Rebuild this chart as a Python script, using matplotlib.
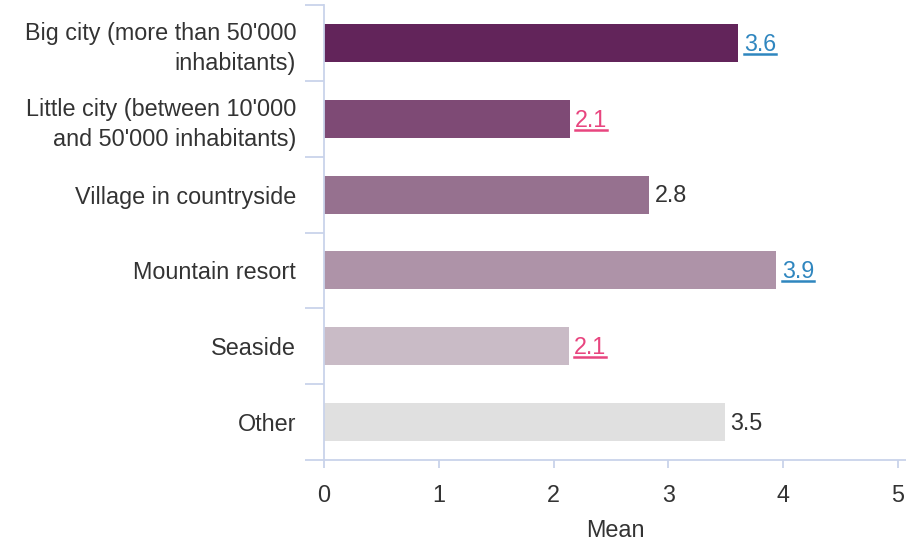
import numpy as np
import matplotlib.pyplot as plt
from matplotlib.lines import Line2D

plt.rcParams['font.family'] = ['Liberation Sans', 'DejaVu Sans']

categories = ["Big city (more than 50'000\ninhabitants)",
              "Little city (between 10'000\nand 50'000 inhabitants)",
              "Village in countryside",
              "Mountain resort",
              "Seaside",
              "Other"]
means = [3.61, 2.14, 2.83, 3.94, 2.13, 3.49]
bar_colors = ["#62245a", "#7e4a75", "#96718f", "#ae93a8", "#c9bbc6", "#e0e0e0"]
label_colors = ["#2f86bf", "#e8457f", "#333333", "#2f86bf", "#e8457f", "#333333"]
underlined = [True, True, False, True, True, False]
xticks = [0, 1, 2, 3, 4, 5]

axis_col = "#c9d3ea"
text_col = "#333333"
fs = 16.8

fig = plt.figure(figsize=(9.06, 5.41), dpi=100)
ax = fig.add_axes([324 / 906, 81 / 541, (906 - 324) / 906, (536 - 81) / 541])

y = np.arange(len(categories))
ax.barh(y, means, height=0.5, color=bar_colors)
ax.set_ylim(len(categories) - 0.5, -0.5)
ax.set_xlim(0, 5 * 582 / 574)

# band boundaries carry the tick marks, band centres carry the labels
ax.set_yticks(np.arange(-0.5, len(categories), 1.0))
ax.set_yticklabels([])
ax.set_yticks(y, minor=True)
ax.set_yticklabels(categories, minor=True, ha='right', fontsize=fs, color=text_col,
                   linespacing=1.35)
ax.tick_params(axis='y', which='major', length=14, width=1.3, color=axis_col)
ax.tick_params(axis='y', which='minor', length=0, pad=20)

ax.set_xticks(xticks)
ax.set_xticklabels([str(t) for t in xticks], fontsize=fs, color=text_col)
ax.tick_params(axis='x', length=6, width=1.3, color=axis_col, pad=11)
ax.set_xlabel("Mean", fontsize=fs, color=text_col, labelpad=9)

for side in ['top', 'right']:
    ax.spines[side].set_visible(False)
for side in ['left', 'bottom']:
    ax.spines[side].set_color(axis_col)
    ax.spines[side].set_linewidth(1.3)

texts = []
for i, v in enumerate(means):
    t = ax.annotate(f"{v:.1f}", (v, i), xytext=(4, -1), textcoords='offset points',
                    va='center', ha='left', fontsize=fs, color=label_colors[i])
    texts.append(t)

fig.canvas.draw()
inv = fig.transFigure.inverted()
for t, c, u in zip(texts, label_colors, underlined):
    if not u:
        continue
    bb = t.get_window_extent()
    (x0, y0), (x1, _) = inv.transform([(bb.x0, bb.y0 + 2), (bb.x1, bb.y0 + 2)])
    fig.add_artist(Line2D([x0, x1], [y0, y0], color=c, linewidth=1.8))

fig.savefig("out.png", dpi=100)
